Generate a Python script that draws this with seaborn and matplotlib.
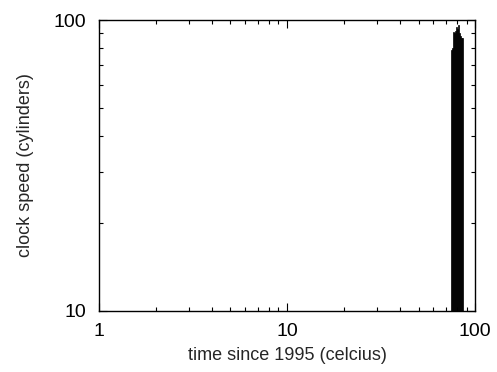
import pandas as pd
import matplotlib
matplotlib.use("Agg")
import matplotlib.pyplot as plt
from matplotlib.ticker import NullFormatter
import seaborn as sns

# valores
years = [75, 76, 77, 78, 79, 80, 81, 82, 83, 84, 85, 86]
speeds = [79, 80, 91, 90, 92, 95, 93, 96, 90, 88, 87, 87]

df = pd.DataFrame({"year": years, "speed": speeds})

sns.set_style("ticks")
plt.rcParams['font.family'] = ['Liberation Sans', 'DejaVu Sans']

fig = plt.figure(figsize=(4.97, 3.72), dpi=100)
ax = fig.add_axes([0.199, 0.164, 0.757, 0.782])

sns.histplot(data=df, x="year", weights="speed", bins=len(years),
             binrange=(min(years) - 0.5, max(years) + 0.5), color="black",
             edgecolor="black", linewidth=0.5, alpha=1, ax=ax)

ax.set_xscale("log")
ax.set_yscale("log")
ax.set_xlim(1, 100)
ax.set_ylim(10, 100)
ax.set_xticks([1, 10, 100])
ax.set_xticklabels(["1", "10", "100"])
ax.set_yticks([10, 100])
ax.set_yticklabels(["10", "100"])
ax.xaxis.set_minor_formatter(NullFormatter())
ax.yaxis.set_minor_formatter(NullFormatter())

ax.tick_params(which="both", direction="in", top=True, right=True,
               width=0.8, colors="black", labelsize=14)
ax.tick_params(which="major", length=6, pad=9)
ax.tick_params(which="minor", length=3)
for s in ax.spines.values():
    s.set_visible(True)
    s.set_linewidth(1)
    s.set_color("black")

ax.set_xlabel("time since 1995 (celcius)", fontsize=13, labelpad=5)
ax.set_ylabel("clock speed (cylinders)", fontsize=13, labelpad=14)

fig.savefig("out.png", dpi=100)
